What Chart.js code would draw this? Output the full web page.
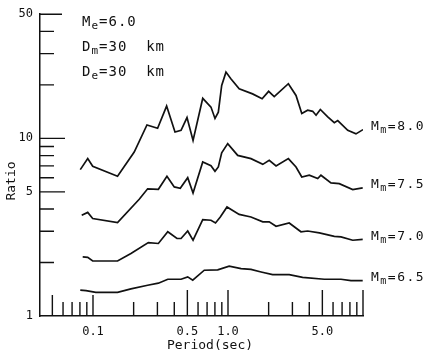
<!DOCTYPE html>
<html>
<head>
<meta charset="utf-8">
<script src="https://cdn.jsdelivr.net/npm/chart.js@4/dist/chart.umd.min.js"></script>
<style>
  html, body { margin: 0; padding: 0; background: #fff; }
</style>
</head>
<body>
<canvas id="ratioChart" width="428" height="357"></canvas>
<script>
// period (sec) / ratio, one pair of arrays per curve
const period80 = [0.0805, 0.0914, 0.0995, 0.152, 0.202, 0.251, 0.301, 0.351, 0.405, 0.449, 0.497, 0.551, 0.650, 0.748, 0.801, 0.848, 0.898, 0.966, 1.05, 1.21, 1.52, 1.79, 2.0, 2.2, 2.8, 3.19, 3.52, 3.89, 4.24, 4.49, 4.83, 5.48, 6.13, 6.5, 7.71, 8.87, 10.0];
const ratio80 = [6.67, 7.69, 6.96, 6.12, 8.38, 11.9, 11.4, 15.2, 10.85, 11.1, 13.1, 9.74, 16.8, 15.0, 12.95, 14.05, 19.85, 23.6, 21.65, 19.0, 17.8, 16.7, 18.4, 17.2, 20.3, 17.45, 13.8, 14.4, 14.2, 13.5, 14.55, 13.2, 12.25, 12.6, 11.1, 10.6, 11.2];

const period75 = [0.0825, 0.0914, 0.0995, 0.152, 0.220, 0.254, 0.305, 0.353, 0.400, 0.443, 0.503, 0.551, 0.650, 0.748, 0.801, 0.848, 0.898, 0.995, 1.18, 1.48, 1.81, 2.02, 2.27, 2.8, 3.19, 3.52, 4.0, 4.62, 4.88, 5.79, 6.67, 8.39, 9.95];
const ratio75 = [3.69, 3.83, 3.54, 3.36, 4.54, 5.2, 5.17, 6.12, 5.33, 5.24, 6.01, 4.93, 7.36, 7.01, 6.52, 6.9, 8.29, 9.34, 8.02, 7.69, 7.14, 7.52, 6.99, 7.69, 6.9, 6.06, 6.2, 5.94, 6.2, 5.61, 5.56, 5.15, 5.26];

const period70 = [0.0839, 0.0914, 0.0995, 0.152, 0.191, 0.257, 0.305, 0.358, 0.419, 0.449, 0.503, 0.551, 0.650, 0.748, 0.808, 0.877, 0.983, 1.21, 1.48, 1.81, 2.02, 2.27, 2.84, 3.47, 3.89, 4.75, 6.13, 6.87, 8.39, 9.95];
const ratio70 = [2.15, 2.14, 2.04, 2.04, 2.25, 2.59, 2.56, 2.98, 2.73, 2.73, 3.01, 2.67, 3.49, 3.46, 3.34, 3.61, 4.11, 3.73, 3.61, 3.39, 3.39, 3.2, 3.34, 2.98, 3.01, 2.94, 2.81, 2.79, 2.67, 2.7];

const period65 = [0.0805, 0.0888, 0.105, 0.152, 0.191, 0.254, 0.305, 0.358, 0.449, 0.503, 0.548, 0.667, 0.839, 1.02, 1.25, 1.48, 1.76, 2.14, 2.84, 3.57, 5.17, 6.87, 8.15, 9.95];
const ratio65 = [1.40, 1.39, 1.36, 1.36, 1.42, 1.49, 1.53, 1.61, 1.61, 1.66, 1.59, 1.81, 1.82, 1.91, 1.85, 1.83, 1.77, 1.71, 1.71, 1.65, 1.61, 1.61, 1.58, 1.58];

const curveNames = ["=8.0", "=7.5", "=7.0", "=6.5"];

// axes
const xTickValues = [0.1, 0.5, 1, 5];
const xTickLabels = ["0.1", "0.5", "1.0", "5.0"];
const yTickValues = [1, 5, 10, 50];
const xMajorMarks = [0.05, 0.1, 0.5, 1, 5, 10];
const xMinorMarks = [0.06, 0.07, 0.08, 0.09, 0.2, 0.3, 0.4, 0.6, 0.7, 0.8, 0.9, 2, 3, 4, 6, 7, 8, 9];
const yMajorMarks = [5, 10, 50];
const yMinorMarks = [2, 3, 4, 6, 7, 8, 9, 20, 30, 40];

const INK = "#111";
const MONO = "'DejaVu Sans Mono', monospace";

const toPoints = (px, py) => px.map((p, i) => ({ x: p, y: py[i] }));

// text with a subscript after the first letter, e.g. M + e + "=6.0"
function subText(ctx, x, y, big, small, rest, size, spacing) {
  ctx.letterSpacing = spacing + "px";
  ctx.font = size + "px " + MONO;
  ctx.fillText(big, x, y);
  x += ctx.measureText(big).width;
  ctx.font = Math.round(size * 0.8) + "px " + MONO;
  ctx.fillText(small, x, y + size * 0.3);
  x += ctx.measureText(small).width;
  ctx.font = size + "px " + MONO;
  ctx.fillText(rest, x, y);
  ctx.letterSpacing = "0px";
}

const paperMarks = {
  id: "paperMarks",
  afterDraw(chart) {
    const { ctx, scales: { x, y } } = chart;
    const left = chart.chartArea.left, bottom = chart.chartArea.bottom;
    ctx.save();
    ctx.strokeStyle = INK;
    ctx.lineWidth = 1.4;
    ctx.beginPath();
    // ticks pointing into the plot
    xMajorMarks.forEach(v => {
      const px = x.getPixelForValue(v);
      const len = v < 0.2 ? 21 : 26;
      ctx.moveTo(px, bottom); ctx.lineTo(px, bottom - len);
    });
    xMinorMarks.forEach(v => {
      const px = x.getPixelForValue(v);
      ctx.moveTo(px, bottom); ctx.lineTo(px, bottom - 14);
    });
    yMajorMarks.forEach(v => {
      const py = y.getPixelForValue(v);
      ctx.moveTo(left, py); ctx.lineTo(left + (v === 50 ? 22 : 25), py);
    });
    yMinorMarks.forEach(v => {
      const py = y.getPixelForValue(v);
      ctx.moveTo(left, py); ctx.lineTo(left + 14, py);
    });
    ctx.stroke();

    ctx.fillStyle = INK;
    ctx.textBaseline = "middle";
    ctx.textAlign = "left";

    // parameters block
    subText(ctx, left + 42, chart.chartArea.top + 8, "M", "e", "=6.0", 14, 1);
    subText(ctx, left + 42, chart.chartArea.top + 33, "D", "m", "=30  km", 14, 1);
    subText(ctx, left + 42, chart.chartArea.top + 58, "D", "e", "=30  km", 14, 1);

    // curve labels at the right end of each line
    chart.data.datasets.forEach((ds, i) => {
      const last = ds.data[ds.data.length - 1];
      const py = y.getPixelForValue(last.y) - 3;
      subText(ctx, chart.chartArea.right + 8, py, "M", "m", curveNames[i], 13, 1.5);
    });

    // axis titles
    ctx.font = "13px " + MONO;
    ctx.textAlign = "center";
    ctx.fillText("Period(sec)", 210, 346);
    ctx.translate(12, 181);
    ctx.rotate(-Math.PI / 2);
    ctx.fillText("Ratio", 0, 0);
    ctx.restore();
  }
};

const line = (pts) => ({
  data: pts,
  borderColor: INK,
  borderWidth: 1.7,
  pointRadius: 0,
  tension: 0,
  fill: false
});

new Chart(document.getElementById("ratioChart"), {
  type: "line",
  data: {
    datasets: [
      line(toPoints(period80, ratio80)),
      line(toPoints(period75, ratio75)),
      line(toPoints(period70, ratio70)),
      line(toPoints(period65, ratio65))
    ]
  },
  options: {
    responsive: false,
    animation: false,
    layout: { padding: { top: 14, right: 65, left: 0, bottom: 0 } },
    plugins: { legend: { display: false }, tooltip: { enabled: false } },
    scales: {
      x: {
        type: "logarithmic",
        min: 0.0405,
        max: 10,
        afterFit: s => { s.height = 41; },
        afterBuildTicks: s => { s.ticks = xTickValues.map(v => ({ value: v })); },
        grid: { drawOnChartArea: false, drawTicks: false },
        border: { display: true, color: INK, width: 1.5 },
        ticks: {
          color: INK,
          padding: 9,
          maxRotation: 0,
          autoSkip: false,
          font: { family: "DejaVu Sans Mono", size: 12 },
          callback: (v, i) => xTickLabels[i]
        }
      },
      y: {
        type: "logarithmic",
        min: 1,
        max: 50,
        afterFit: s => { s.width = 40; },
        afterBuildTicks: s => { s.ticks = yTickValues.map(v => ({ value: v })); },
        grid: { drawOnChartArea: false, drawTicks: false },
        border: { display: true, color: INK, width: 1.5 },
        ticks: {
          color: INK,
          padding: 7,
          autoSkip: false,
          font: { family: "DejaVu Sans Mono", size: 12 },
          callback: v => String(v)
        }
      }
    }
  },
  plugins: [paperMarks]
});
</script>
</body>
</html>
